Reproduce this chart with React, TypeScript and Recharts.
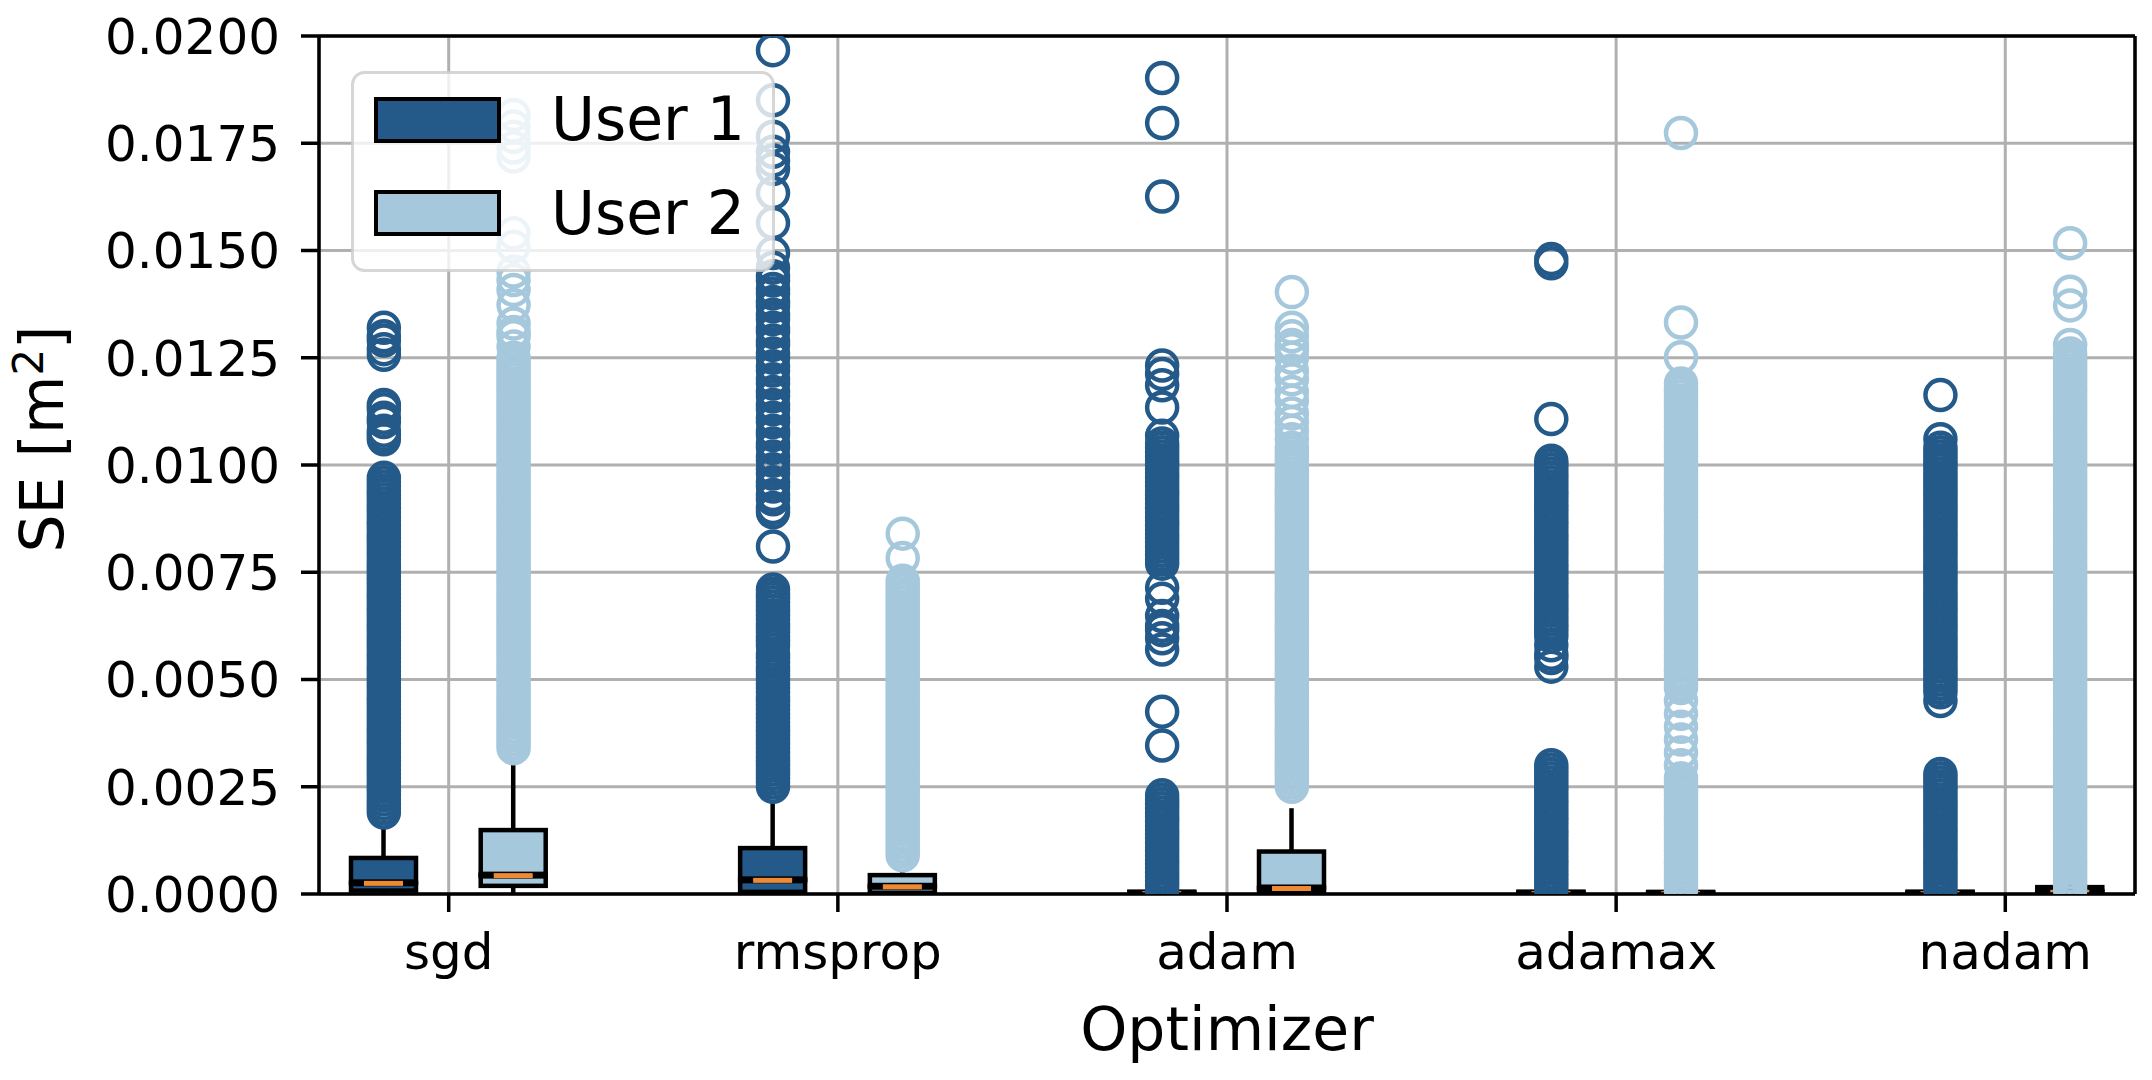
import React from 'react';
import {
  ComposedChart,
  Bar,
  Scatter,
  XAxis,
  YAxis,
  CartesianGrid,
  ReferenceLine,
  Legend,
  Label,
} from 'recharts';

const FONT = 'DejaVu Sans';

const optimizers = ['sgd', 'rmsprop', 'adam', 'adamax', 'nadam'];
const userNames = ['User 1', 'User 2'];
const userColors = ['#245a89', '#a5c8dc'];
const medianColor = '#f08a32';

const yTicks = [0, 0.0025, 0.005, 0.0075, 0.01, 0.0125, 0.015, 0.0175, 0.02];

// box statistics per optimizer, SE in m^2
const user1WhiskerLow = [0, 0, 0, 0, 0];
const user1Q1 = [0.00008, 0.00005, 0, 0, 0];
const user1Median = [0.00026, 0.00033, 0.00002, 0.00002, 0.00002];
const user1Q3 = [0.00084, 0.00107, 0.00005, 0.00005, 0.00005];
const user1WhiskerHigh = [0.00153, 0.00216, 0.00005, 0.00005, 0.00005];

const user2WhiskerLow = [0, 0, 0, 0, 0];
const user2Q1 = [0.00019, 0.00003, 0.00004, 0, 0];
const user2Median = [0.00044, 0.00018, 0.00014, 0.00002, 0.00005];
const user2Q3 = [0.00149, 0.00044, 0.00099, 0.00004, 0.00016];
const user2WhiskerHigh = [0.00303, 0.00054, 0.002, 0.00004, 0.00016];

// fliers, SE in units of 1e-4 m^2 (one list per optimizer)
const user1Outliers = [
  [
    19, 20, 21, 22, 23, 24, 25, 26, 27, 28, 29, 30, 31, 32, 33, 34, 35, 36, 37, 38, 39, 40, 41, 42, 43,
    44, 45, 46, 47, 48, 49, 50, 51, 52, 53, 54, 55, 56, 57, 58, 59, 60, 61, 62, 63, 64, 65, 66, 67, 68,
    69, 70, 71, 72, 73, 74, 75, 76, 77, 78, 79, 80, 81, 82, 83, 84, 85, 86, 87, 88, 89, 90, 91, 92, 93,
    94, 95, 96, 97, 106, 107, 108, 110, 111, 113, 114, 125.7, 127, 129, 130, 132,
  ],
  [
    25, 26, 27, 28, 29, 30, 31, 32, 33, 34, 35, 36, 37, 38, 39, 40, 41, 42, 43, 44, 45, 46, 47, 48, 49,
    50, 51, 52, 53, 54, 55, 56, 58, 59, 60, 61, 62, 63, 64, 65, 66, 67, 68, 69, 70, 71, 81, 89, 90, 92,
    93, 95, 96, 98, 99, 101, 102, 104, 105, 107, 108, 110, 111, 113, 114, 116, 117, 119, 120, 122, 123,
    125, 126, 128, 129, 131, 132, 134, 135, 137, 138, 140, 141, 143, 144, 146, 149.4, 156.4, 163.4, 169,
    171, 173, 176.5, 185, 196.7,
  ],
  [
    1, 2, 3, 4, 5, 6, 7, 8, 9, 10, 11, 12, 13, 14, 15, 16, 17, 18, 19, 20, 21, 22, 23, 34.6, 42.5, 57,
    59.6, 61.5, 62.5, 64.8, 68.8, 71.4, 77, 78, 79, 80, 81, 82, 83, 84, 85, 86, 87, 88, 89, 90, 91, 92,
    93, 94, 95, 96, 97, 98, 99, 100, 101, 102, 103, 104, 105, 106.8, 113.4, 118.6, 121.2, 123.2, 162.6,
    179.7, 190.2,
  ],
  [
    1, 2, 3, 4, 5, 6, 7, 8, 9, 10, 11, 12, 13, 14, 15, 16, 17, 18, 19, 20, 21, 22, 23, 24, 25, 26, 27,
    28, 29, 30, 53, 55, 56, 58, 60, 61, 62, 63, 64, 65, 66, 67, 68, 69, 70, 71, 72, 73, 74, 75, 76, 77,
    78, 79, 80, 81, 82, 83, 84, 85, 86, 87, 88, 89, 90, 91, 92, 93, 94, 95, 96, 97, 98, 99, 100, 101,
    110.7, 147, 148,
  ],
  [
    1, 2, 3, 4, 5, 6, 7, 8, 9, 10, 11, 12, 13, 14, 15, 16, 17, 18, 19, 20, 21, 22, 23, 24, 25, 26, 27,
    28, 45, 47, 48, 49, 50, 51, 52, 53, 54, 55, 56, 57, 58, 59, 60, 61, 62, 63, 64, 65, 66, 67, 68, 69,
    70, 71, 72, 73, 74, 75, 76, 77, 78, 79, 80, 81, 82, 83, 84, 85, 86, 87, 88, 89, 90, 91, 92, 93, 94,
    95, 96, 97, 98, 99, 100, 101, 102, 103, 104, 106, 116.3,
  ],
];

const user2Outliers = [
  [
    34, 35, 36, 37, 38, 39, 40, 41, 42, 43, 44, 45, 46, 47, 48, 49, 50, 51, 52, 53, 54, 55, 56, 57, 58,
    59, 60, 61, 62, 63, 64, 65, 66, 67, 68, 69, 70, 71, 72, 73, 74, 75, 76, 77, 78, 79, 80, 81, 82, 83,
    84, 85, 86, 87, 88, 89, 90, 91, 92, 93, 94, 95, 96, 97, 98, 99, 100, 101, 102, 103, 104, 105, 106,
    107, 108, 109, 110, 111, 112, 113, 114, 115, 116, 117, 118, 119, 120, 121, 122, 123, 124, 125,
    127.6, 130, 131, 133, 137.3, 140.8, 143.1, 145.1, 150.9, 154, 171.9, 174, 176.5, 178.9, 181.6,
  ],
  [
    9, 10, 11, 12, 13, 14, 15, 16, 17, 18, 19, 20, 21, 22, 23, 24, 25, 26, 27, 28, 29, 30, 31, 32, 33,
    34, 35, 36, 37, 38, 39, 40, 41, 42, 43, 44, 45, 46, 47, 48, 49, 50, 51, 52, 53, 54, 55, 56, 57, 58,
    59, 60, 61, 62, 63, 64, 65, 66, 67, 68, 69, 70, 71, 72, 73, 78.3, 84,
  ],
  [
    25, 26, 27, 28, 29, 30, 31, 32, 33, 34, 35, 36, 37, 38, 39, 40, 41, 42, 43, 44, 45, 46, 47, 48, 49,
    50, 51, 52, 53, 54, 55, 56, 57, 58, 59, 60, 61, 62, 63, 64, 65, 66, 67, 68, 69, 70, 71, 72, 73, 74,
    75, 76, 77, 78, 79, 80, 81, 82, 83, 84, 85, 86, 87, 88, 89, 90, 91, 92, 93, 94, 95, 96, 97, 98, 99,
    100, 101, 102, 103, 104, 106, 108, 110, 112, 115, 117, 120, 122, 125, 127, 128, 130, 132, 140.3,
  ],
  [
    1, 2, 3, 4, 5, 6, 7, 8, 9, 10, 11, 12, 13, 14, 15, 16, 17, 18, 19, 20, 21, 22, 23, 24, 25, 26, 27,
    30, 33, 36, 39, 42, 45, 48, 49, 50, 51, 52, 53, 54, 55, 56, 57, 58, 59, 60, 61, 62, 63, 64, 65, 66,
    67, 68, 69, 70, 71, 72, 73, 74, 75, 76, 77, 78, 79, 80, 81, 82, 83, 84, 85, 86, 87, 88, 89, 90, 91,
    92, 93, 94, 95, 96, 97, 98, 99, 100, 101, 102, 103, 104, 105, 106, 107, 108, 109, 110, 111, 112,
    113, 114, 115, 116, 117, 118, 119, 125.1, 133.2, 177.4,
  ],
  [
    1, 2, 3, 4, 5, 6, 7, 8, 9, 10, 11, 12, 13, 14, 15, 16, 17, 18, 19, 20, 21, 22, 23, 24, 25, 26, 27,
    28, 29, 30, 31, 32, 33, 34, 35, 36, 37, 38, 39, 40, 41, 42, 43, 44, 45, 46, 47, 48, 49, 50, 51, 52,
    53, 54, 55, 56, 57, 58, 59, 60, 61, 62, 63, 64, 65, 66, 67, 68, 69, 70, 71, 72, 73, 74, 75, 76, 77,
    78, 79, 80, 81, 82, 83, 84, 85, 86, 87, 88, 89, 90, 91, 92, 93, 94, 95, 96, 97, 98, 99, 100, 101,
    102, 103, 104, 105, 106, 107, 108, 109, 110, 111, 112, 113, 114, 115, 116, 117, 118, 119, 120, 121,
    122, 123, 124, 125, 126, 128, 137.2, 140.4, 151.7,
  ],
];

const OUTLIER_UNIT = 1e-4;
const GROUP_OFFSET = 1 / 6; // boxes sit either side of the category position

const boxStats = [
  { lo: user1WhiskerLow, q1: user1Q1, med: user1Median, q3: user1Q3, hi: user1WhiskerHigh },
  { lo: user2WhiskerLow, q1: user2Q1, med: user2Median, q3: user2Q3, hi: user2WhiskerHigh },
];

const groupX = (i: number, u: number) => i + 1 + (u === 0 ? -GROUP_OFFSET : GROUP_OFFSET);

const boxRows = boxStats.flatMap((s, u) =>
  optimizers.map((_, i) => ({
    x: groupX(i, u),
    user: u,
    base: s.lo[i],
    lowWhisker: s.q1[i] - s.lo[i],
    boxLow: s.med[i] - s.q1[i],
    boxHigh: s.q3[i] - s.med[i],
    highWhisker: s.hi[i] - s.q3[i],
  }))
);

const outlierPoints = [user1Outliers, user2Outliers].map((groups, u) =>
  groups.flatMap((vals, i) => vals.map((v) => ({ x: groupX(i, u), y: v * OUTLIER_UNIT })))
);

const Whisker = (props: any) => {
  const { x, y, width, height } = props;
  if (!height || height <= 0) return <g />;
  const cx = x + width / 2;
  return <line x1={cx} x2={cx} y1={y} y2={y + height} stroke="#000" strokeWidth={4.5} />;
};

const BoxLower = (props: any) => {
  const { x, y, width, height, payload } = props;
  return (
    <rect
      x={x}
      y={y}
      width={width}
      height={Math.max(height, 0)}
      fill={userColors[payload.user]}
      stroke="#000"
      strokeWidth={4.5}
    />
  );
};

const BoxUpper = (props: any) => {
  const { x, y, width, height, payload } = props;
  const my = y + Math.max(height, 0);
  return (
    <g>
      <rect
        x={x}
        y={y}
        width={width}
        height={Math.max(height, 0)}
        fill={userColors[payload.user]}
        stroke="#000"
        strokeWidth={4.5}
      />
      <rect x={x - 2} y={my - 3.5} width={width + 4} height={7} fill="#000" />
      <rect x={x + width * 0.2} y={my - 2} width={width * 0.6} height={5} fill={medianColor} />
    </g>
  );
};

const ring = (color: string) => (props: any) =>
  <circle cx={props.cx} cy={props.cy} r={15} fill="none" stroke={color} strokeWidth={4.5} />;

const LegendBox = () => (
  <svg width={424} height={201} style={{ display: 'block' }}>
    <rect
      x={1.5}
      y={1.5}
      width={421}
      height={198}
      rx={12}
      fill="#fff"
      fillOpacity={0.8}
      stroke="#cccccc"
      strokeOpacity={0.8}
      strokeWidth={3}
    />
    {userNames.map((name, u) => (
      <g key={name}>
        <rect x={25} y={28 + u * 93} width={123} height={42} fill={userColors[u]} stroke="#000" strokeWidth={4} />
        <text x={200} y={69 + u * 94} fontSize={60} fontFamily={FONT} fill="#000">
          {name}
        </text>
      </g>
    ))}
  </svg>
);

const YTitle = (props: any) => {
  const { viewBox } = props;
  const x = viewBox.x - 56;
  const y = viewBox.y + viewBox.height / 2 - 26;
  return (
    <text
      x={x}
      y={y}
      transform={`rotate(-90, ${x}, ${y})`}
      textAnchor="middle"
      fontSize={60}
      fontFamily={FONT}
      fill="#000"
    >
      SE [m
      <tspan dy={-20} fontSize={42}>
        2
      </tspan>
      <tspan dy={20}>]</tspan>
    </text>
  );
};

const XTitle = (props: any) => {
  const { viewBox } = props;
  return (
    <text
      x={viewBox.x + viewBox.width / 2}
      y={viewBox.y + 156}
      textAnchor="middle"
      fontSize={60}
      fontFamily={FONT}
      fill="#000"
    >
      Optimizer
    </text>
  );
};

export default function App() {
  const tickStyle = { fill: '#000', fontSize: 50, fontFamily: FONT };
  const axisStroke = { stroke: '#000', strokeWidth: 3.5 };
  return (
    <div style={{ position: 'absolute', left: 0, top: 0, width: 2152, height: 1080, background: '#fff' }}>
      <ComposedChart
        width={2152}
        height={1080}
        data={boxRows}
        margin={{ top: 36, right: 17, left: 119, bottom: 0 }}
        style={{ fontFamily: FONT }}
      >
        <CartesianGrid stroke="#b0b0b0" strokeWidth={3} />
        <XAxis
          type="number"
          dataKey="x"
          domain={[2 / 3, 16 / 3]}
          ticks={[1, 2, 3, 4, 5]}
          interval={0}
          allowDataOverflow
          tickFormatter={(v: number) => optimizers[Math.round(v) - 1]}
          height={186}
          tick={tickStyle}
          tickSize={18}
          tickMargin={21}
          axisLine={axisStroke}
          tickLine={axisStroke}
        >
          <Label content={<XTitle />} />
        </XAxis>
        <YAxis
          type="number"
          domain={[0, 0.02]}
          ticks={yTicks}
          interval={0}
          allowDataOverflow
          tickFormatter={(v: number) => v.toFixed(4)}
          width={200}
          tick={tickStyle}
          tickSize={18}
          tickMargin={21}
          axisLine={axisStroke}
          tickLine={axisStroke}
        >
          <Label content={<YTitle />} />
        </YAxis>
        <ReferenceLine y={0.02} stroke="#000" strokeWidth={3.5} />
        <ReferenceLine x={16 / 3} stroke="#000" strokeWidth={3.5} />
        {outlierPoints.map((pts, u) => (
          <Scatter
            key={userNames[u]}
            name={userNames[u]}
            data={pts}
            dataKey="y"
            shape={ring(userColors[u])}
            isAnimationActive={false}
          />
        ))}
        <Bar dataKey="base" stackId="box" barSize={65} fill="none" shape={() => <g />} isAnimationActive={false} />
        <Bar dataKey="lowWhisker" stackId="box" barSize={65} shape={Whisker} isAnimationActive={false} />
        <Bar dataKey="boxLow" stackId="box" barSize={65} shape={BoxLower} isAnimationActive={false} />
        <Bar dataKey="boxHigh" stackId="box" barSize={65} shape={BoxUpper} isAnimationActive={false} />
        <Bar dataKey="highWhisker" stackId="box" barSize={65} shape={Whisker} isAnimationActive={false} />
        <Legend
          layout="vertical"
          align="center"
          verticalAlign="middle"
          content={<LegendBox />}
          wrapperStyle={{ left: 351, top: 71, width: 424, height: 201 }}
        />
      </ComposedChart>
    </div>
  );
}
